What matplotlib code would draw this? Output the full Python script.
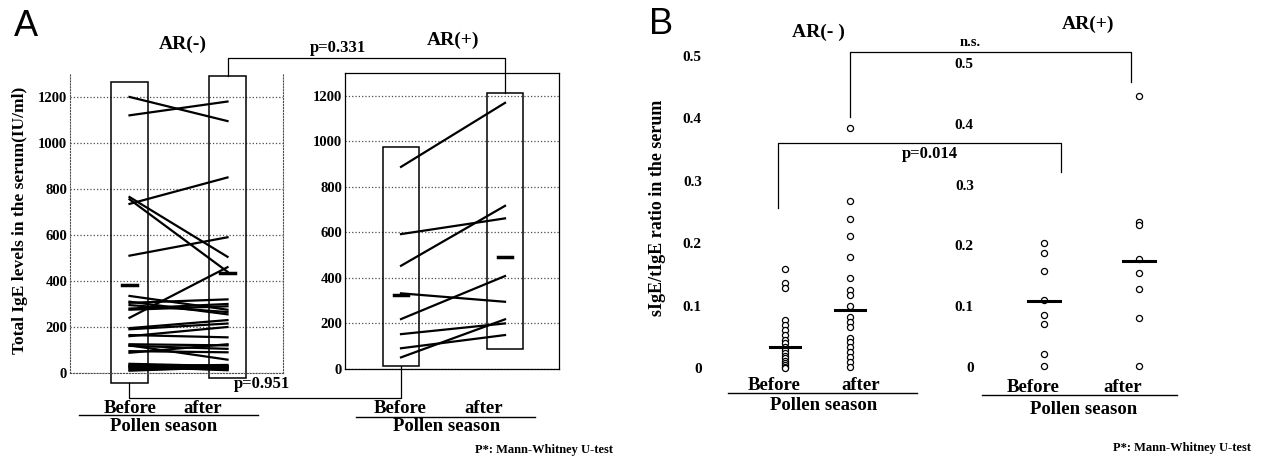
import matplotlib
matplotlib.use('Agg')
import matplotlib.pyplot as plt

W, H = 1284, 461
plt.rcParams['font.family'] = ['Liberation Serif', 'DejaVu Serif']
plt.rcParams['font.weight'] = 'bold'

# ---- panel A: total IgE (IU/ml), paired before/after pollen season
groups = ['Before', 'after']
neg_before = [1200, 1120, 735, 765, 755, 510, 240, 335, 305, 295, 280, 310, 275, 195, 190,
              165, 160, 125, 118, 95, 88, 120, 40, 35, 30, 25, 20, 15, 10, 28]
neg_after = [1095, 1180, 850, 505, 440, 590, 460, 275, 320, 265, 300, 255, 290, 230, 215,
             155, 200, 120, 105, 90, 125, 58, 30, 20, 35, 15, 28, 22, 25, 12]
pos_before = [887, 592, 453, 332, 219, 153, 91, 51]
pos_after = [1168, 661, 716, 295, 408, 200, 149, 218]
neg_mean = [383, 435]
pos_mean = [325, 490]
neg_box_low = [-43, -22]
neg_box_high = [1265, 1291]
pos_box_low = [13, 86]
pos_box_high = [975, 1213]
ige_ticks = [0, 200, 400, 600, 800, 1000, 1200]

# ---- panel B: sIgE/tIgE ratio
negB_before = [0.158, 0.137, 0.129, 0.077, 0.069, 0.061, 0.053, 0.045, 0.040, 0.034, 0.029,
               0.024, 0.020, 0.016, 0.012, 0.008, 0.005, 0.002, 0.0]
negB_after = [0.384, 0.268, 0.239, 0.212, 0.178, 0.145, 0.125, 0.117, 0.100, 0.082, 0.074,
              0.066, 0.048, 0.042, 0.034, 0.026, 0.018, 0.010, 0.002]
posB_before = [0.204, 0.187, 0.158, 0.110, 0.086, 0.071, 0.022, 0.002]
posB_after = [0.446, 0.239, 0.234, 0.177, 0.154, 0.129, 0.080, 0.002]
negB_median = [0.034, 0.093]
posB_median = [0.108, 0.175]
ratio_ticks = [0, 0.1, 0.2, 0.3, 0.4, 0.5]
ratio_labels = ['0', '0.1', '0.2', '0.3', '0.4', '0.5']

fig = plt.figure(figsize=(W / 100, H / 100), dpi=100)


def px_axes(x0, x1, ytop, ybot):
    return fig.add_axes([x0 / W, 1 - ybot / H, (x1 - x0) / W, (ybot - ytop) / H])


xs = [1, 2]


def ige_panel(ax, before, after, means, low, high, boxw, dashw):
    ax.set_yticks(ige_ticks)
    ax.set_xticks([])
    ax.yaxis.grid(True, ls=':', color='0.3', lw=0.9)
    ax.set_axisbelow(True)
    ax.tick_params(axis='y', length=0, pad=2, labelsize=10.5)
    heights = [h - l for h, l in zip(high, low)]
    bars = ax.bar(xs, heights, bottom=low, width=boxw, fill=False, edgecolor='black', lw=1.1)
    for b in bars:
        b.set_clip_on(False)
    for b0, a0 in zip(before, after):
        ax.plot(xs, [b0, a0], color='black', lw=1.6, clip_on=False)
    for x, m in zip(xs, means):
        ax.plot([x - dashw, x + dashw], [m, m], color='black', lw=2.5, clip_on=False)


axL = px_axes(70, 283, 73, 373)
axL.set_xlim(0.393, 2.566)
axL.set_ylim(0, 1304)
ige_panel(axL, neg_before, neg_after, neg_mean, neg_box_low, neg_box_high, 0.378, 0.08)
axL.spines['top'].set_visible(False)
for s in ['left', 'right', 'bottom']:
    axL.spines[s].set_linestyle(':')
    axL.spines[s].set_color('0.3')

axR = px_axes(345, 559, 73, 369)
axR.set_xlim(0.4615, 2.519)
axR.set_ylim(0, 1299)
ige_panel(axR, pos_before, pos_after, pos_mean, pos_box_low, pos_box_high, 0.346, 0.07)
for s in axR.spines.values():
    s.set_linewidth(0.9)


def ratio_panel(ax, before, after, medians, dashw):
    ax.set_ylim(0, 0.5)
    ax.set_yticks(ratio_ticks)
    ax.set_yticklabels(ratio_labels)
    ax.set_xticks([])
    for s in ax.spines.values():
        s.set_visible(False)
    ax.tick_params(axis='y', length=0, pad=3, labelsize=11)
    ax.plot([1] * len(before), before, 'o', mfc='white', mec='black', ms=4.4, mew=0.9, clip_on=False)
    ax.plot([2] * len(after), after, 'o', mfc='white', mec='black', ms=4.4, mew=0.9, clip_on=False)
    for x, m in zip(xs, medians):
        ax.plot([x - dashw, x + dashw], [m, m], color='black', lw=2.2, clip_on=False)


axBL = px_axes(706, 920, 56, 368)
axBL.set_xlim(-0.215, 3.077)
ratio_panel(axBL, negB_before, negB_after, negB_median, 0.23)

axBR = px_axes(978, 1200, 63, 367)
axBR.set_xlim(0.305, 2.642)
ratio_panel(axBR, posB_before, posB_after, posB_median, 0.165)

# overlay in pixel coordinates for labels and brackets
ov = fig.add_axes([0, 0, 1, 1], zorder=10)
ov.set_xlim(0, W)
ov.set_ylim(H, 0)
ov.axis('off')
ov.patch.set_alpha(0)


def to_px(ax, x, y):
    return ov.transData.inverted().transform(ax.transData.transform((x, y)))


def bracket(p0, p1, level):
    ov.plot([p0[0], p0[0], p1[0], p1[0]], [p0[1], level, level, p1[1]], color='black', lw=0.9)


# panel A brackets
bracket(to_px(axL, 2, neg_box_high[1]), to_px(axR, 2, pos_box_high[1]), 58)
bracket(to_px(axL, 1, neg_box_low[0]), to_px(axR, 1, pos_box_low[0]), 398)
ov.text(338, 48, 'p=0.331', ha='center', va='center', fontsize=12)
ov.text(262, 384, 'p=0.951', ha='center', va='center', fontsize=12)

# panel B brackets
p0 = to_px(axBL, 2, 0.403)
p1 = to_px(axBR, 1.92, 0.468)
bracket(p0, p1, to_px(axBL, 2, 0.507)[1])
p0 = to_px(axBL, 0.89, 0.256)
p1 = to_px(axBR, 1.18, 0.32)
bracket(p0, p1, to_px(axBL, 1, 0.361)[1])
ov.text(970, 42, 'n.s.', ha='center', va='center', fontsize=10.5)
ov.text(930, 154, 'p=0.014', ha='center', va='center', fontsize=12)

# panel letters and group titles
ov.text(26, 26, 'A', ha='center', va='center', fontsize=26, family='Liberation Sans', weight='normal')
ov.text(661, 25, 'B', ha='center', va='center', fontsize=26, family='Liberation Sans', weight='normal')
ov.text(183, 44, 'AR(-)', ha='center', va='center', fontsize=14)
ov.text(453, 40, 'AR(+)', ha='center', va='center', fontsize=14)
ov.text(818, 32, 'AR(- )', ha='center', va='center', fontsize=14)
ov.text(1088, 24, 'AR(+)', ha='center', va='center', fontsize=14)

# x group labels
xlabels = [
    (130, 203, 408, 79, 258, 415, 164, 426),
    (400, 484, 408, 356, 535, 417, 447, 426),
    (774, 861, 385, 728, 917, 393, 824, 405),
    (1033, 1123, 387, 982, 1177, 395, 1084, 409),
]
for xb, xa, yl, u0, u1, yu, xp, yp in xlabels:
    ov.text(xb, yl, groups[0], ha='center', va='center', fontsize=13.5)
    ov.text(xa, yl, groups[1], ha='center', va='center', fontsize=13.5)
    ov.plot([u0, u1], [yu, yu], color='black', lw=1.0)
    ov.text(xp, yp, 'Pollen season', ha='center', va='center', fontsize=13.5)

ov.text(544, 450, 'P*: Mann-Whitney U-test', ha='center', va='center', fontsize=9)
ov.text(1182, 448, 'P*: Mann-Whitney U-test', ha='center', va='center', fontsize=9)

ov.text(20, 220, 'Total IgE levels in the serum(IU/ml)', rotation=90, ha='center', va='center', fontsize=12.5)
ov.text(657, 208, 'sIgE/tIgE ratio in the serum', rotation=90, ha='center', va='center', fontsize=13)

fig.savefig('out.png', dpi=100)
